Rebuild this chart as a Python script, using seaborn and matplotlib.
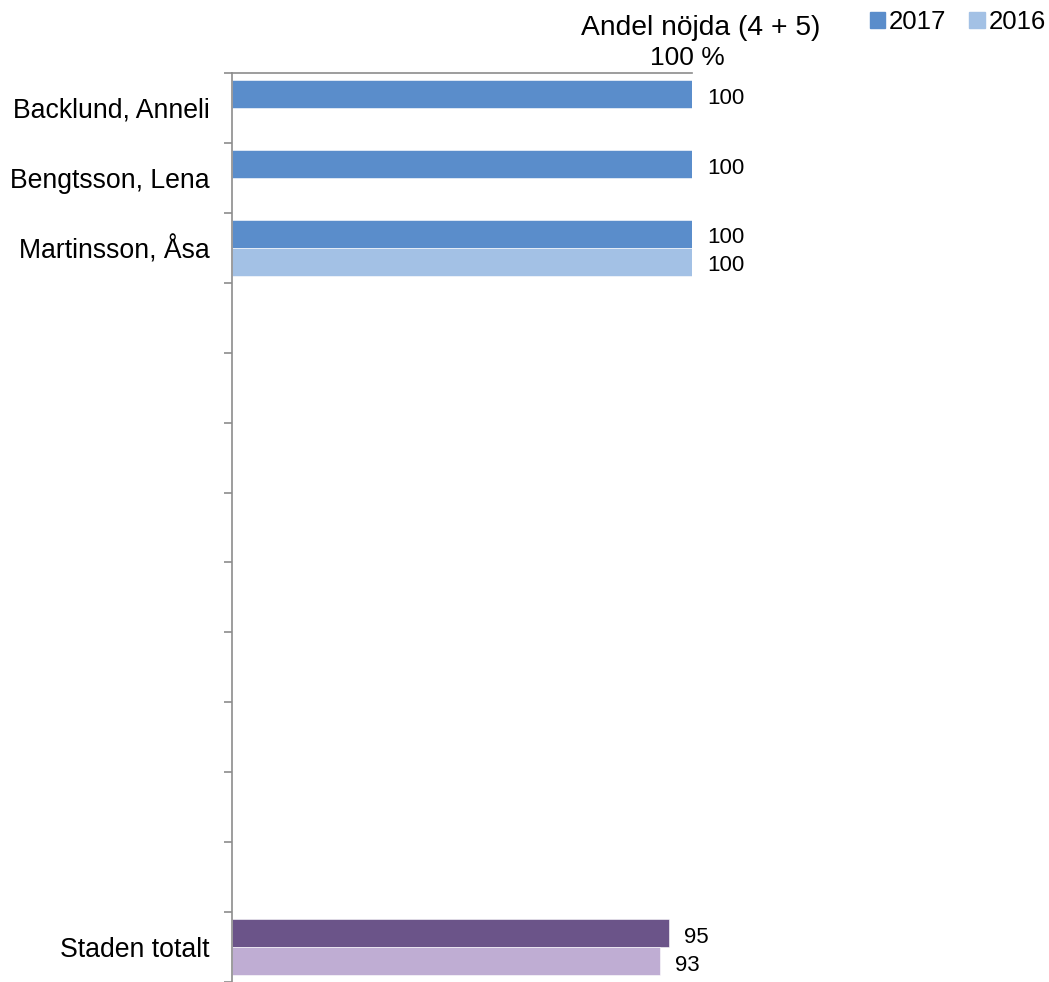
import numpy as np
import pandas as pd
import matplotlib
matplotlib.use("Agg")
import matplotlib.pyplot as plt
from matplotlib.patches import Patch
from matplotlib.transforms import ScaledTranslation
import seaborn as sns

sns.set_style("white")
plt.rcParams["font.family"] = ["Liberation Sans", "DejaVu Sans"]
plt.rcParams["text.color"] = "black"
plt.rcParams["xtick.labelcolor"] = "black"
plt.rcParams["ytick.labelcolor"] = "black"

# ---------------------------------------------------------------
# Data
# ---------------------------------------------------------------
names = ["Backlund, Anneli", "Bengtsson, Lena", "Martinsson, Åsa",
         "", "", "", "", "", "", "", "", "", "Staden totalt"]
vals_2017 = [100, 100, 100, None, None, None, None, None, None, None, None, None, 95]
vals_2016 = [None, None, 100, None, None, None, None, None, None, None, None, None, 93]
years = ["2017", "2016"]

BLUE_17, BLUE_16 = "#5A8DCB", "#A3C1E5"
PURP_17, PURP_16 = "#6B5489", "#BFADD3"
GREY = "#8C8C8C"

# unique keys so the blank slots stay separate categories
keys = [f"c{i}" for i in range(len(names))]
df = pd.DataFrame({
    "key": keys * 2,
    "year": ["2017"] * len(keys) + ["2016"] * len(keys),
    "value": vals_2017 + vals_2016,
})

fig = plt.figure(figsize=(10.49, 9.82), dpi=100)
ax = fig.add_axes([232 / 1049, 0.0, 460 / 1049, (982 - 73) / 982])

sns.barplot(data=df, x="value", y="key", hue="year", order=keys, hue_order=years,
            palette=[BLUE_17, BLUE_16], saturation=1, orient="h", width=0.8, ax=ax,
            legend=False, edgecolor="white", linewidth=0.4)

# recolour the city total bars purple
for cont, col in zip(ax.containers, [PURP_17, PURP_16]):
    cont.patches[-1].set_facecolor(col)

for cont in ax.containers:
    labels = ["" if np.isnan(v) else f"{v:.0f}" for v in cont.datavalues]
    txts = ax.bar_label(cont, labels=labels, padding=11, fontsize=16, color="black")
    for t in txts:
        t.xyann = (11, -3)

ax.set_xlim(0, 100)
ax.set_ylim(len(keys) - 0.5, -0.5)
ax.set_xlabel("")
ax.set_ylabel("")

# y labels at slot centres, tick marks at slot boundaries
ax.set_yticks(range(len(keys)))
ax.set_yticklabels(names, fontsize=19.2)
ax.set_yticks(np.arange(-0.5, len(keys)), minor=True)
ax.tick_params(axis="y", which="major", length=0, pad=16)
ax.tick_params(axis="y", which="minor", left=True, length=6, width=1.2, color=GREY)

ax.xaxis.tick_top()
ax.set_xticks([100])
ax.set_xticklabels(["100 %"], fontsize=19)
ax.tick_params(axis="x", length=0, pad=2)
for lbl in ax.get_xticklabels():
    lbl.set_horizontalalignment("right")
    lbl.set_transform(lbl.get_transform() + ScaledTranslation(0.33, 0, fig.dpi_scale_trans))

sns.despine(ax=ax, top=False, right=True, bottom=True, left=False)
for s in ["left", "top"]:
    ax.spines[s].set_color(GREY)
    ax.spines[s].set_linewidth(1.2)

fig.text(701 / 1049, 1 - 28 / 982, "Andel nöjda (4 + 5)", fontsize=20.3,
         ha="center", va="center")

handles = [Patch(color=BLUE_17, label="2017"), Patch(color=BLUE_16, label="2016")]
fig.legend(handles=handles, loc="center right", bbox_to_anchor=(1046 / 1049, 1 - 22 / 982),
           ncol=2, frameon=False, fontsize=18.5, handlelength=0.6, handleheight=0.6,
           handletextpad=0.15, columnspacing=0.9, borderaxespad=0, borderpad=0)

fig.savefig("out.png", dpi=100)
